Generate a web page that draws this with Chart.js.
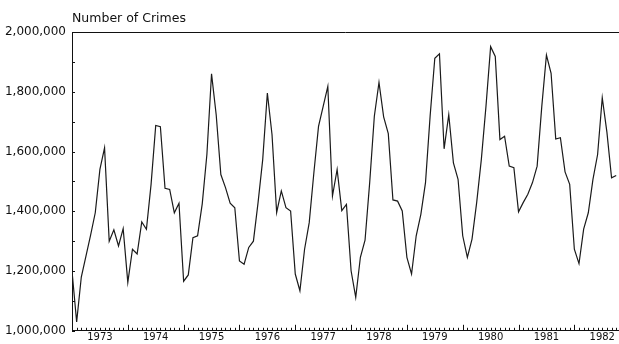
<!DOCTYPE html>
<html>
<head>
<meta charset="utf-8">
<title>Number of Crimes</title>
<script src="https://cdn.jsdelivr.net/npm/chart.js@4/dist/chart.umd.min.js"></script>
<style>
  html, body { margin: 0; padding: 0; background: #fff; }
  #wrap { position: relative; width: 619px; height: 344px; }
  #titulo {
    position: absolute; left: 72px; top: 11px;
    font: 12.5px 'DejaVu Sans', sans-serif; color: #111; line-height: 13px;
  }
</style>
</head>
<body>
<div id="wrap">
  <div id="titulo">Number of Crimes</div>
  <canvas id="chartCrimes"></canvas>
</div>
<script>
/* Monthly number of crimes, Jan 1973 onwards */
const crimes1973 = [1200000, 1030000, 1180000, 1250000, 1320000, 1395000, 1540000, 1612000, 1300000, 1338000, 1284000, 1342000];
const crimes1974 = [1162000, 1273000, 1257000, 1364000, 1340000, 1490000, 1687000, 1683000, 1477000, 1473000, 1395000, 1427000];
const crimes1975 = [1166000, 1187000, 1312000, 1318000, 1425000, 1590000, 1860000, 1723000, 1523000, 1479000, 1427000, 1412000];
const crimes1976 = [1234000, 1223000, 1279000, 1300000, 1429000, 1573000, 1796000, 1657000, 1396000, 1468000, 1412000, 1401000];
const crimes1977 = [1190000, 1134000, 1273000, 1362000, 1529000, 1684000, 1751000, 1818000, 1451000, 1540000, 1402000, 1423000];
const crimes1978 = [1201000, 1112000, 1246000, 1303000, 1496000, 1718000, 1831000, 1716000, 1660000, 1438000, 1434000, 1401000];
const crimes1979 = [1246000, 1190000, 1318000, 1390000, 1496000, 1720000, 1912000, 1927000, 1609000, 1723000, 1562000, 1507000];
const crimes1980 = [1318000, 1246000, 1307000, 1429000, 1573000, 1751000, 1951000, 1918000, 1640000, 1651000, 1551000, 1546000];
const crimes1981 = [1398000, 1429000, 1457000, 1496000, 1551000, 1751000, 1923000, 1862000, 1642000, 1646000, 1532000, 1490000];
const crimes1982 = [1273000, 1225000, 1340000, 1395000, 1507000, 1590000, 1780000, 1665000, 1512000, 1520000];

const yearLabels = [1973, 1974, 1975, 1976, 1977, 1978, 1979, 1980, 1981, 1982];
const yTickValues = [1000000, 1200000, 1400000, 1600000, 1800000, 2000000];

(function () {
  const serie = [].concat(crimes1973, crimes1974, crimes1975, crimes1976, crimes1977,
    crimes1978, crimes1979, crimes1980, crimes1981, crimes1982);
  const puntos = serie.map((v, i) => ({ x: yearLabels[0] + i / 12, y: v }));
  const xMax = 1982.8;

  // ---- marco superior y marcas hacia dentro ----
  const marcas = {
    id: 'marcas',
    afterDraw(chart) {
      const { ctx, chartArea: a, scales: { x, y } } = chart;
      ctx.save();
      ctx.strokeStyle = '#111';
      ctx.lineWidth = 1;
      ctx.beginPath();
      ctx.moveTo(a.left, a.top + 0.5);
      ctx.lineTo(a.right, a.top + 0.5);
      const meses = Math.floor((xMax - yearLabels[0]) * 12);
      for (let m = 1; m <= meses; m++) {
        const px = Math.round(x.getPixelForValue(yearLabels[0] + m / 12)) + 0.5;
        const len = m % 12 === 0 ? 6 : 3;
        ctx.moveTo(px, a.bottom);
        ctx.lineTo(px, a.bottom - len);
      }
      for (let v = yTickValues[0]; v <= yTickValues[yTickValues.length - 1]; v += 100000) {
        const py = Math.round(y.getPixelForValue(v)) + 0.5;
        ctx.moveTo(a.left, py);
        ctx.lineTo(a.left + 3, py);
      }
      ctx.stroke();
      ctx.restore();
    },
  };

  const fuente = { family: "'DejaVu Sans', sans-serif", size: 12 };

  new Chart(document.getElementById('chartCrimes'), {
    type: 'line',
    data: {
      datasets: [{
        data: puntos,
        borderColor: '#1a1a1a', borderWidth: 1.2,
        pointRadius: 0, tension: 0, fill: false,
      }],
    },
    plugins: [marcas],
    options: {
      responsive: true,
      maintainAspectRatio: false,
      animation: false,
      layout: { padding: { top: 32, right: 0, left: 0, bottom: 0 } },
      plugins: { legend: { display: false }, tooltip: { enabled: false } },
      scales: {
        x: {
          type: 'linear', min: yearLabels[0], max: xMax,
          grid: { display: false, drawTicks: false },
          border: { display: true, color: '#111', width: 1 },
          afterBuildTicks: (s) => { s.ticks = yearLabels.map((yr) => ({ value: yr + 0.5 })); },
          afterFit: (s) => { s.height = 12; },
          ticks: {
            autoSkip: false, maxRotation: 0, padding: 1, color: '#111',
            font: { family: fuente.family, size: 10 },
            callback: (v) => String(Math.floor(v)),
          },
        },
        y: {
          min: yTickValues[0], max: yTickValues[yTickValues.length - 1],
          grid: { display: false, drawTicks: false },
          border: { display: true, color: '#111', width: 1 },
          afterBuildTicks: (s) => { s.ticks = yTickValues.map((v) => ({ value: v })); },
          afterFit: (s) => { s.width = 72; },
          ticks: {
            padding: 6, color: '#111', font: fuente,
            callback: (v) => Number(v).toLocaleString('en-US'),
          },
        },
      },
    },
  });
}());
</script>
</body>
</html>
